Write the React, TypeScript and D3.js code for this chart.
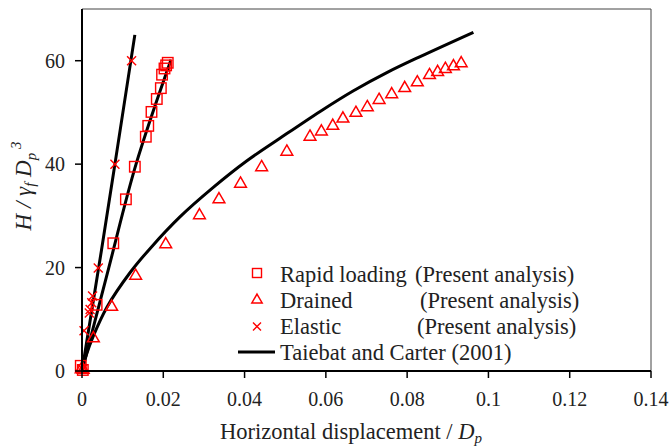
import React from "react";
import * as d3 from "d3";

const xTicks = [0, 0.02, 0.04, 0.06, 0.08, 0.1, 0.12, 0.14];
const yTicks = [0, 20, 40, 60];

const rapidPts: [number, number][] = [
  [-0.0003, 1.0], [0.0002, 0.2], [0.0036, 12.8], [0.0077, 24.7], [0.0108, 33.2], [0.013, 39.5],
  [0.0157, 45.3], [0.0163, 47.4], [0.0171, 50.1], [0.0184, 52.6], [0.0194, 54.7],
  [0.0197, 57.3], [0.0203, 58.5], [0.0207, 59.1], [0.0211, 59.6],
];
const drainedPts: [number, number][] = [
  [-0.0002, 0.3], [0.0003, 0.2], [0.0028, 6.3], [0.0073, 12.4], [0.0132, 18.4], [0.0206, 24.5],
  [0.0289, 30.1], [0.0337, 33.2], [0.039, 36.2], [0.0442, 39.4], [0.0504, 42.4],
  [0.0561, 45.3], [0.0589, 46.3], [0.0617, 47.4], [0.0642, 48.8], [0.0674, 49.9],
  [0.0702, 51.0], [0.0731, 52.4], [0.0762, 53.5], [0.0794, 54.7], [0.0825, 55.8],
  [0.0855, 57.2], [0.0875, 57.8], [0.0894, 58.4], [0.0914, 58.9], [0.0933, 59.5],
];
const elasticPts: [number, number][] = [
  [0.0001, 0.4], [0.0005, 7.8], [0.0018, 11.2], [0.002, 11.9], [0.0024, 13.2],
  [0.0026, 14.5], [0.004, 19.9], [0.0081, 40], [0.0122, 60],
];

const elasticLine: [number, number][] = [[0, 0], [0.0048, 23.4], [0.0081, 40], [0.013, 65]];
const rapidLine: [number, number][] = [[0, 0], [0.0066, 20], [0.0133, 40], [0.0219, 60.2]];
const drainedLine: [number, number][] = [
  [0, 0], [0.0011, 3.2], [0.0028, 6.8], [0.0061, 12.3], [0.0118, 19.0], [0.0171, 24.0],
  [0.0241, 29.8], [0.0323, 35.5], [0.0405, 40.6], [0.0487, 45.0], [0.0586, 50.2],
  [0.0668, 54.2], [0.075, 57.7], [0.0832, 60.8], [0.0963, 65.5],
];

const FONT = "'Liberation Serif', 'Times New Roman', serif";
const RED = "#ff0000";

export default function App() {
  const W = 671, H = 447;
  const x = d3.scaleLinear().domain([0, 0.14]).range([82, 651]);
  const y = d3.scaleLinear().domain([0, 70]).range([371, 9]);
  const line = d3.line<[number, number]>().x(d => x(d[0])).y(d => y(d[1])).curve(d3.curveCatmullRom.alpha(0.5));
  const lineStraight = d3.line<[number, number]>().x(d => x(d[0])).y(d => y(d[1])).curve(d3.curveMonotoneY);
  const tri = d3.symbol().type(d3.symbolTriangle).size(60)()!;
  const triL = d3.symbol().type(d3.symbolTriangle).size(46)()!;

  const sq = (cx: number, cy: number, s: number, k: string) => (
    <rect key={k} x={cx - s / 2} y={cy - s / 2} width={s} height={s} fill="none" stroke={RED} strokeWidth={1.4} />
  );
  const cross = (cx: number, cy: number, s: number, k: string) => (
    <path key={k} d={`M${cx - s},${cy - s}L${cx + s},${cy + s}M${cx - s},${cy + s}L${cx + s},${cy - s}`} stroke={RED} strokeWidth={1.4} fill="none" />
  );

  const fmt = (v: number) => (v === 0 ? "0" : String(+v.toFixed(2)));

  return (
    <svg width={W} height={H} style={{ position: "absolute", left: 0, top: 0, background: "#fff" }} fontFamily={FONT}>
      <rect width={W} height={H} fill="#fff" />
      {/* frame */}
      <line x1={82} x2={651} y1={9} y2={9} stroke="#444" strokeWidth={1} />
      <line x1={651} x2={651} y1={9} y2={371} stroke="#444" strokeWidth={1} />

      {/* lines */}
      <path d={lineStraight(elasticLine)!} fill="none" stroke="#000" strokeWidth={3} />
      <path d={lineStraight(rapidLine)!} fill="none" stroke="#000" strokeWidth={3} />
      <path d={line(drainedLine)!} fill="none" stroke="#000" strokeWidth={3} />

      {/* markers */}
      {rapidPts.map((d, i) => sq(x(d[0]), y(d[1]), 10.5, "r" + i))}
      {drainedPts.map((d, i) => (
        <path key={"d" + i} d={tri} transform={`translate(${x(d[0])},${y(d[1])})`} fill="none" stroke={RED} strokeWidth={1.5} />
      ))}
      {elasticPts.map((d, i) => cross(x(d[0]), y(d[1]), 4.5, "e" + i))}

      {/* axes */}
      <line x1={82} x2={82} y1={9} y2={372} stroke="#000" strokeWidth={2} />
      <line x1={81} x2={651} y1={371} y2={371} stroke="#000" strokeWidth={2} />
      {xTicks.map(t => (
        <g key={"xt" + t}>
          <line x1={x(t)} x2={x(t)} y1={371} y2={378} stroke="#000" strokeWidth={1.5} />
          <text x={x(t)} y={406} textAnchor="middle" fontSize={20} fill="#222">{fmt(t)}</text>
        </g>
      ))}
      {yTicks.map(t => (
        <g key={"yt" + t}>
          <line x1={75} x2={82} y1={y(t)} y2={y(t)} stroke="#000" strokeWidth={1.5} />
          <text x={65} y={y(t)} dy="0.35em" textAnchor="end" fontSize={20} fill="#222">{t}</text>
        </g>
      ))}

      {/* axis titles */}
      <text x={351} y={439} textAnchor="middle" fontSize={22.5} fill="#222">
        Horizontal displacement / <tspan fontStyle="italic">D</tspan>
        <tspan fontStyle="italic" fontSize={15} dy={4}>p</tspan>
      </text>
      <text transform="translate(31,186) rotate(-90)" textAnchor="middle" fontSize={23} fill="#222" fontStyle="italic">
        H / γ<tspan fontSize={15} dy={4}>f</tspan>
        <tspan dy={-4}> D</tspan>
        <tspan fontSize={15} dy={5}>p</tspan>
        <tspan fontSize={15} dy={-15}> 3</tspan>
      </text>

      {/* legend */}
      {sq(257, 273, 9, "lr")}
      <path d={triL} transform="translate(257,300)" fill="none" stroke={RED} strokeWidth={1.5} />
      {cross(257, 326.5, 4, "le")}
      <line x1={238} x2={275} y1={352} y2={352} stroke="#000" strokeWidth={3} />
      <g fontSize={22.5} fill="#222">
        <text x={280} y={282}>Rapid loading</text>
        <text x={415} y={282}>(Present analysis)</text>
        <text x={280} y={308}>Drained</text>
        <text x={420} y={308}>(Present analysis)</text>
        <text x={280} y={334}>Elastic</text>
        <text x={417} y={334}>(Present analysis)</text>
        <text x={280} y={360}>Taiebat and Carter (2001)</text>
      </g>
    </svg>
  );
}
